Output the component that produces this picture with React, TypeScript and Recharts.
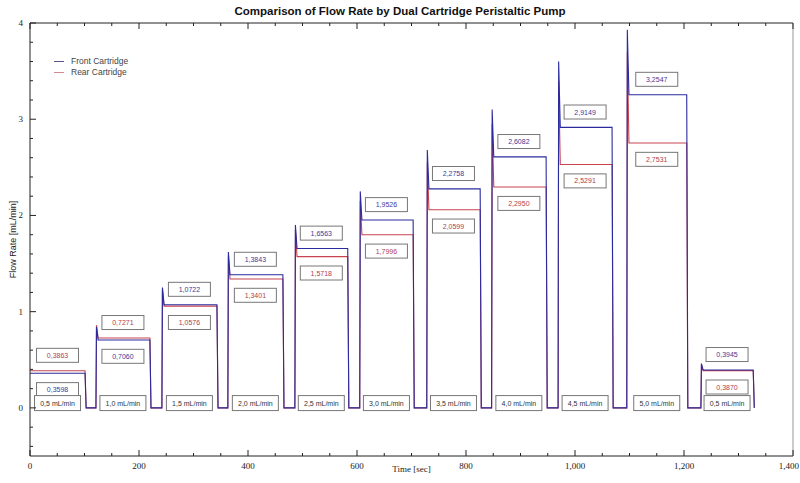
import { LineChart, Line, XAxis, YAxis, ReferenceDot, Legend } from 'recharts'

// step timing [sec]
const STEP_START = [0, 121, 242, 363, 486, 605, 728, 847, 969, 1095, 1231]
const STEP_END = [101, 220, 343, 464, 583, 703, 826, 947, 1068, 1205, 1327]

// plateau values from the boxed labels [mL/min]
const FRONT_LEVEL = [0.3598, 0.706, 1.0722, 1.3843, 1.6563, 1.9526, 2.2758, 2.6082, 2.9149, 3.2547, 0.3945]
const REAR_LEVEL = [0.3863, 0.7271, 1.0576, 1.3401, 1.5718, 1.7996, 2.0599, 2.295, 2.5291, 2.7531, 0.387]

// start-up overshoot peaks
const FRONT_PEAK = [0.4, 0.84, 1.25, 1.62, 1.9, 2.25, 2.68, 3.1, 3.6, 3.93, 0.46]
const REAR_PEAK = [0.42, 0.86, 1.23, 1.58, 1.85, 2.15, 2.55, 2.95, 3.4, 3.7, 0.45]

const RATE_LABELS = [
  '0,5 mL/min', '1,0 mL/min', '1,5 mL/min', '2,0 mL/min', '2,5 mL/min', '3,0 mL/min',
  '3,5 mL/min', '4,0 mL/min', '4,5 mL/min', '5,0 mL/min', '0,5 mL/min',
]

const X_TICKS = [
  0, 50, 100, 150, 200, 250, 300, 350, 400, 450, 500, 550, 600, 650, 700,
  750, 800, 850, 900, 950, 1000, 1050, 1100, 1150, 1200, 1250, 1300, 1350, 1400,
]
const Y_TICKS = [
  -0.4, -0.2, 0, 0.2, 0.4, 0.6, 0.8, 1, 1.2, 1.4, 1.6, 1.8, 2, 2.2, 2.4, 2.6, 2.8,
  3, 3.2, 3.4, 3.6, 3.8, 4,
]

const FRONT_COLOR = '#2b2b9e'
const REAR_COLOR = '#c8434f'
const TICK_FONT = '"Liberation Serif", serif'
const SANS = '"Liberation Sans", Arial, sans-serif'

type Row = { t: number; front: number; rear: number }

const rows: Row[] = []
STEP_START.forEach((start, i) => {
  const end = STEP_END[i]
  if (i === 0) {
    rows.push({ t: start, front: FRONT_LEVEL[i], rear: REAR_LEVEL[i] })
  } else {
    rows.push({ t: start, front: 0, rear: 0 })
    rows.push({ t: start + 1, front: FRONT_PEAK[i], rear: REAR_PEAK[i] })
    rows.push({ t: start + 4, front: FRONT_LEVEL[i], rear: REAR_LEVEL[i] })
  }
  rows.push({ t: end, front: FRONT_LEVEL[i], rear: REAR_LEVEL[i] })
  rows.push({ t: end + 2, front: 0, rear: 0 })
})

const fmt = (v: number) => v.toFixed(4).replace('.', ',')

function BoxLabel({ cx, cy, text, color, w = 42, h = 14 }: any) {
  if (cx == null || cy == null) return null
  return (
    <g>
      <rect x={cx - w / 2} y={cy - h / 2} width={w} height={h} fill="#fff" stroke="#777" strokeWidth={1} />
      <text x={cx} y={cy + 2.5} textAnchor="middle" fontSize={7} fontFamily={SANS} fill={color}>
        {text}
      </text>
    </g>
  )
}

function BottomTick({ x, y, payload }: any) {
  const major = payload.value % 200 === 0
  const last = payload.value === 1400
  return (
    <g>
      <line x1={x} x2={x} y1={y} y2={y - (major ? 6 : 3)} stroke="#222" />
      {major && (
        <text
          x={last ? x + 6 : x} y={y + 13} textAnchor={last ? 'end' : 'middle'}
          fontSize={9} fontFamily={TICK_FONT} fill="#222"
        >
          {payload.value.toLocaleString('en-US')}
        </text>
      )}
    </g>
  )
}

function TopTick({ x, y, payload }: any) {
  const major = payload.value % 200 === 0
  return <line x1={x} x2={x} y1={y} y2={y + (major ? 6 : 3)} stroke="#222" />
}

function LeftTick({ x, y, payload }: any) {
  const major = Number.isInteger(payload.value)
  return (
    <g>
      <line x1={x} x2={x + (major ? 6 : 3)} y1={y} y2={y} stroke="#222" />
      {major && (
        <text x={x - 7} y={y + 3} textAnchor="end" fontSize={9} fontFamily={TICK_FONT} fill="#222">
          {payload.value}
        </text>
      )}
    </g>
  )
}

function RightTick({ x, y, payload }: any) {
  const major = Number.isInteger(payload.value)
  return <line x1={x} x2={x - (major ? 6 : 3)} y1={y} y2={y} stroke="#222" />
}

function YTitle({ viewBox }: any) {
  const cx = viewBox.x - 16
  const cy = viewBox.y + viewBox.height / 2
  return (
    <text
      x={cx} y={cy} transform={`rotate(-90 ${cx} ${cy})`} textAnchor="middle" dominantBaseline="central"
      fontSize={9} fontFamily={SANS} fill="#222"
    >
      Flow Rate [mL/min]
    </text>
  )
}

function LegendBox() {
  const items = [
    { name: 'Front Cartridge', color: '#555588' },
    { name: 'Rear Cartridge', color: '#d08a90' },
  ]
  return (
    <div style={{ fontFamily: SANS, fontSize: 8.5, color: '#444', lineHeight: '11px' }}>
      {items.map((it) => (
        <div key={it.name} style={{ display: 'flex', alignItems: 'center' }}>
          <span style={{ display: 'inline-block', width: 10, height: 1, background: it.color, marginRight: 7 }} />
          {it.name}
        </div>
      ))}
    </div>
  )
}

export default function App() {
  return (
    <div style={{ position: 'absolute', left: 0, top: 0, width: 800, height: 483, background: '#fff' }}>
      <div
        style={{
          position: 'absolute', top: 5, left: 0, width: 800, textAlign: 'center',
          fontFamily: SANS, fontWeight: 'bold', fontSize: 11.5, color: '#111',
        }}
      >
        Comparison of Flow Rate by Dual Cartridge Peristaltic Pump
      </div>
      <LineChart width={800} height={483} data={rows} margin={{ top: 22, right: 6, bottom: 26, left: 29 }}>
        <XAxis
          xAxisId="b" dataKey="t" type="number" domain={[0, 1400]} ticks={X_TICKS}
          tickSize={0} tickMargin={0} tickLine={false} tick={<BottomTick />} height={1}
          axisLine={{ stroke: '#222' }} interval={0}
          label={{ value: 'Time [sec]', position: 'bottom', offset: 9, fontSize: 9, fontFamily: TICK_FONT, fill: '#222' }}
        />
        <XAxis
          xAxisId="t" orientation="top" dataKey="t" type="number" domain={[0, 1400]} ticks={X_TICKS}
          tickSize={0} tickMargin={0} tickLine={false} tick={<TopTick />} height={1}
          axisLine={{ stroke: '#222' }} interval={0}
        />
        <YAxis
          yAxisId="l" type="number" domain={[-0.5, 4]} ticks={Y_TICKS} width={1}
          tickSize={0} tickMargin={0} tickLine={false} tick={<LeftTick />}
          axisLine={{ stroke: '#222' }} interval={0}
          label={{ content: <YTitle /> }}
        />
        <YAxis
          yAxisId="r" orientation="right" type="number" domain={[-0.5, 4]} ticks={Y_TICKS} width={1}
          tickSize={0} tickMargin={0} tickLine={false} tick={<RightTick />}
          axisLine={{ stroke: '#999' }} interval={0}
        />
        <Legend
          layout="horizontal" verticalAlign="middle" align="center"
          wrapperStyle={{ top: 56, left: 54, width: 'auto' }}
          content={<LegendBox />}
        />
        <Line
          xAxisId="b" yAxisId="l" dataKey="rear" name="Rear Cartridge" type="linear"
          stroke={REAR_COLOR} strokeWidth={1.1} dot={false} isAnimationActive={false}
        />
        <Line
          xAxisId="b" yAxisId="l" dataKey="front" name="Front Cartridge" type="linear"
          stroke={FRONT_COLOR} strokeWidth={1.1} dot={false} isAnimationActive={false}
        />
        {STEP_START.map((start, i) => {
          const mid = (start + STEP_END[i]) / 2
          const frontTop = FRONT_LEVEL[i] >= REAR_LEVEL[i]
          const hi = frontTop ? FRONT_LEVEL[i] : REAR_LEVEL[i]
          const lo = frontTop ? REAR_LEVEL[i] : FRONT_LEVEL[i]
          return [
            <ReferenceDot
              key={`hi${i}`} xAxisId="b" yAxisId="l" x={mid} y={hi + 0.16}
              shape={(p: any) => <BoxLabel cx={p.cx} cy={p.cy} text={fmt(hi)} color={frontTop ? '#3a3a9a' : '#b04050'} />}
            />,
            <ReferenceDot
              key={`lo${i}`} xAxisId="b" yAxisId="l" x={mid} y={lo - 0.17}
              shape={(p: any) => <BoxLabel cx={p.cx} cy={p.cy} text={fmt(lo)} color={frontTop ? '#b04050' : '#3a3a9a'} />}
            />,
            <ReferenceDot
              key={`rate${i}`} xAxisId="b" yAxisId="l" x={mid} y={0.05}
              shape={(p: any) => <BoxLabel cx={p.cx} cy={p.cy} text={RATE_LABELS[i]} color="#333" w={46} h={15} />}
            />,
          ]
        })}
      </LineChart>
    </div>
  )
}
